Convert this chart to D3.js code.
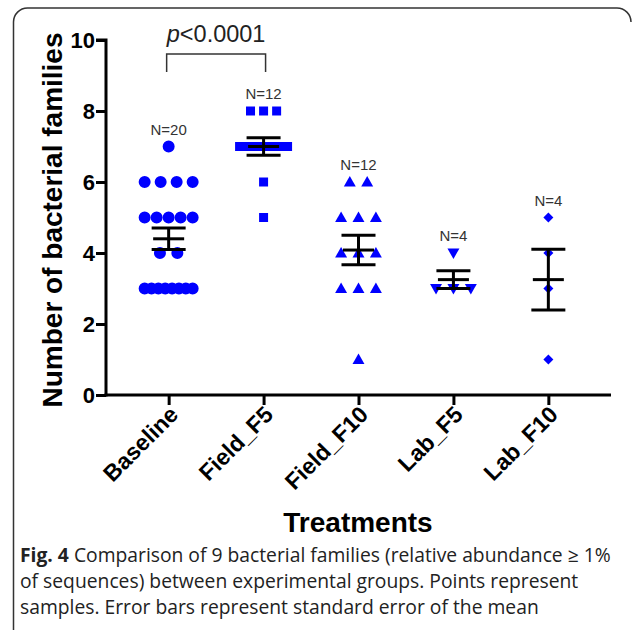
<!DOCTYPE html>
<html>
<head>
<meta charset="utf-8">
<script src="https://cdn.jsdelivr.net/npm/d3@7"></script>
<style>
  body { margin: 0; background: #fff; }
  svg { display: block; }
</style>
</head>
<body>
<svg width="635" height="630"></svg>
<script>
// Groups and the sample values
const categories = ["Baseline", "Field_F5", "Field_F10", "Lab_F5", "Lab_F10"];
const baseline  = [7, 6, 6, 6, 6, 5, 5, 5, 5, 5, 4, 4, 3, 3, 3, 3, 3, 3, 3, 3];
const fieldF5   = [8, 8, 8, 7, 7, 7, 7, 7, 7, 7, 6, 5];
const fieldF10  = [6, 6, 5, 5, 5, 4, 4, 4, 3, 3, 3, 1];
const labF5     = [4, 3, 3, 3];
const labF10    = [5, 4, 3, 1];
const yTicks    = [0, 2, 4, 6, 8, 10];
const pLabel    = "0.0001";
const caption = [
  "of sequences) between experimental groups. Points represent",
  "samples. Error bars represent standard error of the mean"
];

const groups = [baseline, fieldF5, fieldF10, labF5, labF10];

const svg = d3.select("svg");
const blue = "#0000ff";
const font = "'Liberation Sans', Arial, sans-serif";

// frame round the figure (left and top edges only)
svg.append("path")
    .attr("d", "M13.5,630 L13.5,22 A14,14 0 0 1 27.5,8 L617,8 A14,14 0 0 1 631,22")
    .attr("fill", "none")
    .attr("stroke", "#333")
    .attr("stroke-width", 1.5);

const x = d3.scalePoint().domain(categories).range([106, 611]).padding(0.66);
const y = d3.scaleLinear().domain([0, 10]).range([395, 40]);

// axes
const yAxis = svg.append("g")
    .attr("transform", "translate(106,0)")
    .call(d3.axisLeft(y).tickValues(yTicks).tickSize(10).tickPadding(1));
const xAxis = svg.append("g")
    .attr("transform", `translate(0,${y(0)})`)
    .call(d3.axisBottom(x).tickSize(10).tickFormat(""));

[yAxis, xAxis].forEach(a => {
    a.select(".domain").attr("stroke", "#000").attr("stroke-width", 3);
    a.selectAll(".tick line").attr("stroke", "#000").attr("stroke-width", 3);
});
xAxis.select(".domain").attr("d", `M104.5,0H611`);
yAxis.select(".domain").attr("d", `M0,${y(0) + 1.5}V${y(10)}H-10`);
yAxis.selectAll(".tick text")
    .attr("font-family", font).attr("font-size", 22).attr("font-weight", "bold")
    .attr("fill", "#000");

// rotated category labels
svg.append("g").selectAll("text")
    .data(categories)
    .join("text")
    .attr("transform", d => `translate(${x(d) + 11},${y(0) + 21}) rotate(-45)`)
    .attr("text-anchor", "end")
    .attr("font-family", font).attr("font-size", 23).attr("font-weight", "bold")
    .text(d => d);

svg.append("text")
    .attr("x", 358).attr("y", 532)
    .attr("text-anchor", "middle")
    .attr("font-family", font).attr("font-size", 28).attr("font-weight", "bold")
    .text("Treatments");

svg.append("text")
    .attr("transform", "translate(62,220) rotate(-90)")
    .attr("text-anchor", "middle")
    .attr("font-family", font).attr("font-size", 28).attr("font-weight", "bold")
    .text("Number of bacterial families");

// marker shapes per group
const shapes = [
    { type: d3.symbolCircle,   size: 113, w: 12, rot: 0 },
    { type: d3.symbolSquare,   size: 81,  w: 9,  rot: 0 },
    { type: d3.symbolTriangle, size: 62,  w: 12, rot: 0 },
    { type: d3.symbolTriangle, size: 62,  w: 12, rot: 180 },
    { type: d3.symbolSquare,   size: 50,  w: 9,  rot: 45 }
];

// spread points that share a value sideways
function spread(values, w) {
    const out = [];
    d3.group(values, v => v).forEach((arr, v) => {
        const n = arr.length;
        const gap = n > 1 ? Math.min(w * 1.45, 48 / (n - 1)) : 0;
        arr.forEach((_, i) => out.push({ v, dx: (i - (n - 1) / 2) * gap }));
    });
    return out;
}

const plot = svg.append("g");
groups.forEach((vals, gi) => {
    const cx = x(categories[gi]);
    const s = shapes[gi];
    const sym = d3.symbol().type(s.type).size(s.size);
    plot.append("g").selectAll("path")
        .data(spread(vals, s.w))
        .join("path")
        .attr("d", sym)
        .attr("transform", d => `translate(${cx + d.dx},${y(d.v) + (s.type === d3.symbolTriangle ? (s.rot ? -1 : 1) : 0)}) rotate(${s.rot})`)
        .attr("fill", blue);
});

// mean and SEM
const bars = svg.append("g").attr("stroke", "#000").attr("stroke-width", 3);
groups.forEach((vals, gi) => {
    const cx = x(categories[gi]);
    const m = d3.mean(vals);
    const sem = d3.deviation(vals) / Math.sqrt(vals.length);
    bars.append("line").attr("x1", cx).attr("x2", cx).attr("y1", y(m + sem)).attr("y2", y(m - sem));
    bars.append("line").attr("x1", cx - 17).attr("x2", cx + 17).attr("y1", y(m + sem)).attr("y2", y(m + sem));
    bars.append("line").attr("x1", cx - 17).attr("x2", cx + 17).attr("y1", y(m - sem)).attr("y2", y(m - sem));
    bars.append("line").attr("x1", cx - 15.5).attr("x2", cx + 15.5).attr("y1", y(m)).attr("y2", y(m));

    svg.append("text")
        .attr("x", cx).attr("y", y(d3.max(vals)) - 12)
        .attr("text-anchor", "middle")
        .attr("font-family", font).attr("font-size", 15).attr("fill", "#333")
        .text("N=" + vals.length);
});

// significance bracket
const bx1 = x(categories[0]) - 2, bx2 = x(categories[1]) + 2;
svg.append("path")
    .attr("d", `M${bx1},72V54H${bx2}V72`)
    .attr("fill", "none").attr("stroke", "#333").attr("stroke-width", 1.5);
const pt = svg.append("text")
    .attr("x", (bx1 + bx2) / 2).attr("y", 42)
    .attr("text-anchor", "middle")
    .attr("font-family", font).attr("font-size", 23.5).attr("fill", "#222");
pt.append("tspan").attr("font-style", "italic").text("p");
pt.append("tspan").text("<" + pLabel);

// caption
const cap = svg.append("g")
    .attr("font-family", "'Open Sans', sans-serif").attr("font-size", 19.3).attr("fill", "#222");
const l1 = cap.append("text").attr("x", 20).attr("y", 562);
l1.append("tspan").attr("font-weight", "bold").text("Fig. 4");
l1.append("tspan").text(" Comparison of 9 bacterial families (relative abundance \u2265 1%");
cap.selectAll(".ln").data(caption).join("text")
    .attr("class", "ln")
    .attr("x", 20).attr("y", (d, i) => 588 + i * 25.5)
    .text(d => d);
</script>
</body>
</html>
